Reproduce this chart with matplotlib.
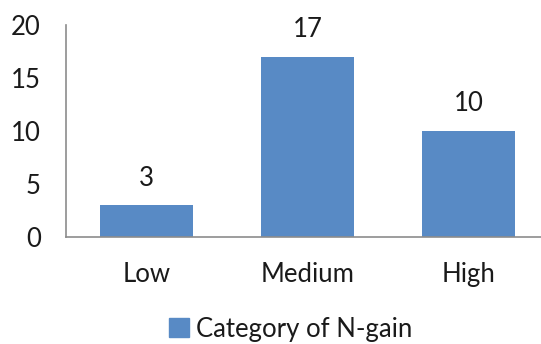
import matplotlib
matplotlib.use("Agg")
import matplotlib.pyplot as plt
from matplotlib.patches import Patch

categories = ["Low", "Medium", "High"]
values = [3, 17, 10]
series_name = "Category of N-gain"
yticks = [0, 5, 10, 15, 20]

plt.rcParams['font.family'] = ['Lato', 'DejaVu Sans']
W, H = 541, 344
fig = plt.figure(figsize=(W / 100, H / 100), dpi=100)
left, right, top, bottom = 66, 549, 25, 237
ax = fig.add_axes([left / W, 1 - bottom / H, (right - left) / W, (bottom - top) / H])

fs = 18.5
color = "#588AC5"
x = range(len(categories))
bars = ax.bar(x, values, width=0.575, color=color, zorder=2)
ax.set_xlim(-0.5, len(categories) - 0.5)
ax.set_ylim(0, 20)
ax.set_yticks(yticks)
ax.set_yticklabels([str(t) for t in yticks], fontsize=fs, color="#1a1a1a")
ax.set_xticks(list(x))
ax.set_xticklabels(categories, fontsize=fs, color="#1a1a1a")
ax.tick_params(axis='y', length=0, pad=18)
ax.tick_params(axis='x', length=0, pad=18)

for s in ["top", "right"]:
    ax.spines[s].set_visible(False)
for s in ["left", "bottom"]:
    ax.spines[s].set_color("#8c8c8c")
    ax.spines[s].set_linewidth(1.2)

for b, v in zip(bars, values):
    ax.annotate(str(v), (b.get_x() + b.get_width() / 2, v), xytext=(0, 19.5),
                textcoords="offset points", ha="center", va="center",
                fontsize=fs, color="#1a1a1a")

handle = Patch(facecolor=color, edgecolor=color)
fig.legend([handle], [series_name], loc="center", bbox_to_anchor=(291 / W, 1 - 329 / H),
           frameon=False, fontsize=fs, handlelength=0.75, handleheight=0.75,
           handletextpad=0.3, labelcolor="#1a1a1a")

fig.savefig("out.png", dpi=100)
